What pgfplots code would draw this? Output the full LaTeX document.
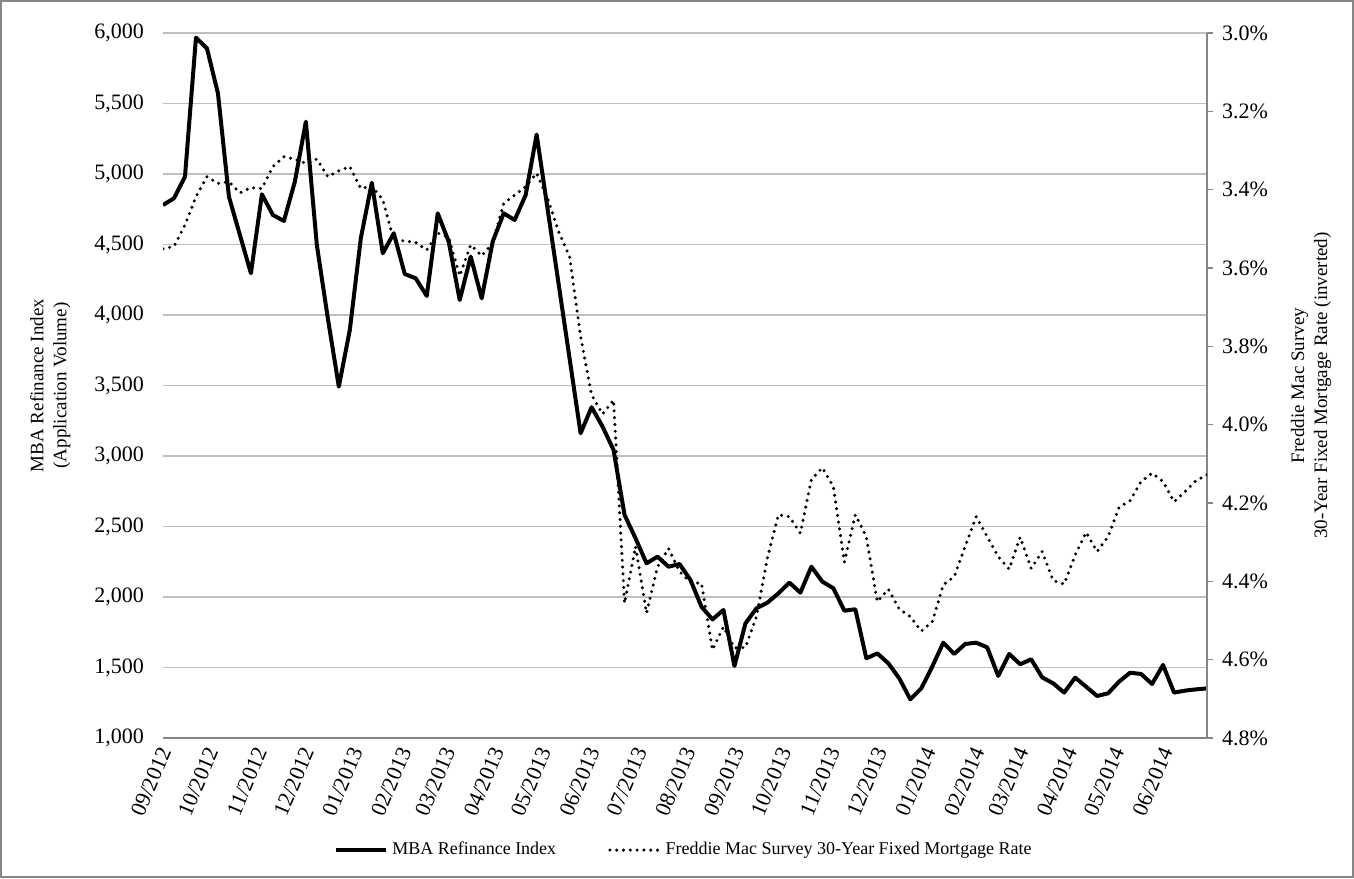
\documentclass[border=0pt]{standalone}
\usepackage{fontspec}
\setmainfont{Liberation Serif}
\usepackage{pgfplots}
\pgfplotsset{compat=1.18}
\usepackage{pgfplotstable}
\definecolor{gridc}{RGB}{191,191,191}
\definecolor{axc}{RGB}{134,134,134}

\pgfplotstableread{
i mba rate
0 4780 3.551
1 4828 3.545
2 4981 3.49
3 5967 3.418
4 5891 3.367
5 5572 3.384
6 4839 3.38
7 4567 3.408
8 4296 3.395
9 4856 3.397
10 4709 3.341
11 4667 3.316
12 4946 3.322
13 5371 3.333
14 4496 3.322
15 3976 3.367
16 3492 3.352
17 3894 3.341
18 4544 3.397
19 4938 3.391
20 4438 3.426
21 4580 3.528
22 4291 3.531
23 4260 3.535
24 4135 3.554
25 4721 3.511
26 4520 3.522
27 4106 3.62
28 4414 3.541
29 4118 3.569
30 4520 3.537
31 4721 3.435
32 4674 3.414
33 4851 3.392
34 5280 3.358
35 4750 3.422
36 4220 3.507
37 3690 3.571
38 3161 3.775
39 3346 3.924
40 3208 3.973
41 3043 3.937
42 2582 4.456
43 2416 4.311
44 2239 4.481
45 2286 4.363
46 2215 4.316
47 2234 4.375
48 2121 4.403
49 1931 4.405
50 1841 4.575
51 1908 4.516
52 1511 4.57
53 1813 4.569
54 1920 4.49
55 1960 4.34
56 2026 4.23
57 2102 4.235
58 2031 4.277
59 2215 4.14
60 2109 4.11
61 2062 4.158
62 1903 4.351
63 1913 4.23
64 1565 4.286
65 1600 4.452
66 1530 4.42
67 1423 4.471
68 1274 4.49
69 1352 4.527
70 1506 4.503
71 1676 4.409
72 1596 4.388
73 1667 4.31
74 1676 4.235
75 1643 4.286
76 1440 4.337
77 1596 4.369
78 1523 4.287
79 1558 4.367
80 1430 4.324
81 1388 4.398
82 1322 4.407
83 1428 4.333
84 1364 4.275
85 1298 4.324
86 1317 4.286
87 1400 4.211
88 1463 4.194
89 1454 4.145
90 1383 4.124
91 1518 4.145
92 1322 4.197
93 1336 4.171
94 1345 4.143
95 1352 4.128
}\data

\begin{document}
\begin{tikzpicture}
\useasboundingbox (-81.5pt,-70pt) rectangle (595.5pt,369pt);
\draw[axc, line width=1pt] (-81pt,-69.5pt) rectangle (595pt,368.5pt);
\begin{axis}[
  at={(0,0)}, anchor=south west,
  width=522pt, height=352.5pt, scale only axis,
  xmin=0, xmax=665, ymin=1000, ymax=6000,
  xtick={0,30,61,91,122,153,181,212,242,273,303,334,365,395,426,456,487,518,546,577,607,638},
  xticklabels={09/2012,10/2012,11/2012,12/2012,01/2013,02/2013,03/2013,04/2013,05/2013,06/2013,07/2013,08/2013,09/2013,10/2013,11/2013,12/2013,01/2014,02/2014,03/2014,04/2014,05/2014,06/2014},
  ytick={1000,1500,2000,2500,3000,3500,4000,4500,5000,5500,6000},
  axis x line*=bottom, axis y line*=left,
  x axis line style={draw=axc, line width=0.75pt, -},
  y axis line style={draw=none},
  major tick length=0pt,
  ymajorgrids, grid style={gridc, line width=0.6pt},
  /pgf/number format/assume math mode=true,
  /pgf/number format/1000 sep={,},
  yticklabel style={font=\fontsize{11}{13}\selectfont, xshift=-6pt},
  xticklabel style={font=\fontsize{11}{13}\selectfont, rotate=67, anchor=east, yshift=-3pt, xshift=-1pt},
  ylabel={MBA Refinance Index\\(Application Volume)},
  ylabel style={at={(axis description cs:-0.108,0.5)}, anchor=center, align=center, font=\fontsize{9.5}{11.5}\selectfont},
  legend style={at={(axis description cs:0.5,-0.159)}, anchor=center, draw=none, fill=none,
    font=\fontsize{9}{11}\selectfont, /tikz/every even column/.append style={column sep=24pt}},
  legend columns=2,
  legend image code/.code={\draw[#1] (0pt,0pt) -- (25pt,0pt);},
]
\addplot[black, line width=2pt, line join=round] table[x expr=7*\thisrow{i}, y=mba]{\data};
\addlegendentry{MBA Refinance Index}
\addlegendimage{black, line width=1.7pt, line cap=round, dash pattern=on 0pt off 3.4pt}
\addlegendentry{Freddie Mac Survey 30-Year Fixed Mortgage Rate}
\end{axis}
\begin{axis}[
  at={(0,0)}, anchor=south west,
  width=522pt, height=352.5pt, scale only axis,
  xmin=0, xmax=665, ymin=3.0, ymax=4.8, y dir=reverse,
  axis x line=none, axis y line*=right,
  y axis line style={draw=axc, line width=0.75pt, -},
  ytick={3.0,3.2,3.4,3.6,3.8,4.0,4.2,4.4,4.6,4.8},
  tick align=outside, major tick length=3pt,
  ytick style={draw=axc, line width=0.75pt},
  /pgf/number format/assume math mode=true,
  yticklabel={\pgfmathprintnumber[fixed,fixed zerofill,precision=1]{\tick}\%},
  yticklabel style={font=\fontsize{11}{13}\selectfont, xshift=1pt},
  ylabel={Freddie Mac Survey\\30-Year Fixed Mortgage Rate (inverted)},
  ylabel style={at={(axis description cs:1.0996,0.5)}, anchor=center, align=center, font=\fontsize{9.5}{11.5}\selectfont},
]
\addplot[black, line width=1.7pt, line cap=round, dash pattern=on 0pt off 3.4pt] table[x expr=7*\thisrow{i}, y=rate]{\data};
\end{axis}
\end{tikzpicture}
\end{document}
